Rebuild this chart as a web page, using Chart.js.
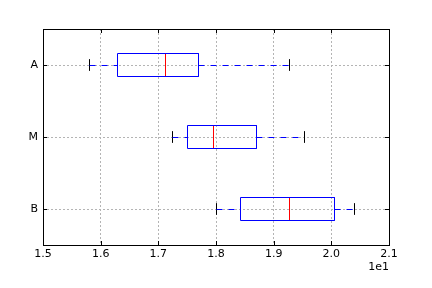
<!DOCTYPE html>
<html>
<head>
<meta charset="utf-8">
<script src="https://cdn.jsdelivr.net/npm/chart.js@4/dist/chart.umd.min.js"></script>
<style>
  html, body { margin: 0; padding: 0; background: #fff; }
  #wrap { width: 432px; height: 288px; }
</style>
</head>
<body>
<div id="wrap"><canvas id="box-chart"></canvas></div>
<script>
const categories = ['A', 'M', 'B'];
const whiskerLow = [1.580, 1.724, 1.800];
const q1 = [1.630, 1.750, 1.843];
const median = [1.712, 1.795, 1.927];
const q3 = [1.769, 1.871, 2.006];
const whiskerHigh = [1.927, 1.954, 2.041];
const xTicks = [1.5, 1.6, 1.7, 1.8, 1.9, 2.0, 2.1];

const BOX_HALF = 0.155;
const CAP_HALF = 0.08;

function seg(points, color, dash) {
  return {
    type: 'scatter',
    data: points,
    showLine: true,
    borderColor: color,
    borderWidth: 1,
    borderDash: dash || [],
    pointRadius: 0,
    fill: false
  };
}

const datasets = [];
categories.forEach((c, i) => {
  // box
  datasets.push(seg([
    { x: q1[i], y: i - BOX_HALF }, { x: q3[i], y: i - BOX_HALF },
    { x: q3[i], y: i + BOX_HALF }, { x: q1[i], y: i + BOX_HALF },
    { x: q1[i], y: i - BOX_HALF }
  ], '#0000ff'));
  // whiskers
  datasets.push(seg([{ x: whiskerLow[i], y: i }, { x: q1[i], y: i }], '#0000ff', [6, 6]));
  datasets.push(seg([{ x: q3[i], y: i }, { x: whiskerHigh[i], y: i }], '#0000ff', [6, 6]));
  // caps
  datasets.push(seg([{ x: whiskerLow[i], y: i - CAP_HALF }, { x: whiskerLow[i], y: i + CAP_HALF }], '#000000'));
  datasets.push(seg([{ x: whiskerHigh[i], y: i - CAP_HALF }, { x: whiskerHigh[i], y: i + CAP_HALF }], '#000000'));
  // median
  datasets.push(seg([{ x: median[i], y: i - BOX_HALF }, { x: median[i], y: i + BOX_HALF }], '#ff0000'));
});

// snap line points to half pixels so 1px lines stay crisp
const snapPlugin = {
  id: 'snap',
  afterDatasetsUpdate(chart) {
    chart.data.datasets.forEach((ds, di) => {
      chart.getDatasetMeta(di).data.forEach(el => {
        el.x = Math.floor(el.x) + 0.5;
        el.y = Math.floor(el.y) + 0.5;
      });
    });
  }
};

// axes frame + inward ticks like matplotlib
const framePlugin = {
  id: 'frame',
  afterDatasetsDraw(chart) {
    const { ctx, chartArea: a, scales } = chart;
    ctx.save();
    ctx.strokeStyle = '#000';
    ctx.lineWidth = 1;
    ctx.beginPath();
    scales.x.ticks.forEach(t => {
      const px = Math.round(scales.x.getPixelForValue(t.value)) + 0.5;
      ctx.moveTo(px, a.bottom); ctx.lineTo(px, a.bottom - 4);
      ctx.moveTo(px, a.top); ctx.lineTo(px, a.top + 4);
    });
    scales.y.ticks.forEach(t => {
      const py = Math.round(scales.y.getPixelForValue(t.value)) + 0.5;
      ctx.moveTo(a.left, py); ctx.lineTo(a.left + 4, py);
      ctx.moveTo(a.right, py); ctx.lineTo(a.right - 4, py);
    });
    ctx.stroke();
    ctx.strokeRect(Math.round(a.left) + 0.5, Math.round(a.top) + 0.5,
      Math.round(a.right - a.left), Math.round(a.bottom - a.top));
    ctx.restore();
  }
};

Chart.defaults.font.family = '"DejaVu Sans", sans-serif';
Chart.defaults.font.size = 11;
Chart.defaults.color = '#000';

new Chart(document.getElementById('box-chart'), {
  type: 'scatter',
  data: { datasets },
  options: {
    responsive: true,
    maintainAspectRatio: false,
    animation: false,
    layout: { padding: { top: 29, right: 43, left: 0, bottom: 0 } },
    plugins: { legend: { display: false }, tooltip: { enabled: false } },
    scales: {
      x: {
        type: 'linear',
        min: 1.5,
        max: 2.1,
        afterBuildTicks: s => { s.ticks = xTicks.map(v => ({ value: v })); },
        afterFit: s => { s.height = 43; },
        ticks: { padding: 3, callback: v => v.toFixed(1) },
        grid: { color: '#b4b4b4', drawTicks: false },
        border: { display: false, dash: [2, 2] },
        title: { display: true, text: '1e1', align: 'end', padding: { top: 0, bottom: 14 } }
      },
      y: {
        type: 'linear',
        min: -0.5,
        max: 2.5,
        reverse: true,
        afterBuildTicks: s => { s.ticks = categories.map((c, i) => ({ value: i })); },
        afterFit: s => { s.width = 43; },
        ticks: { padding: 5, callback: v => categories[v] },
        grid: { color: '#b4b4b4', drawTicks: false },
        border: { display: false, dash: [2, 2] }
      }
    }
  },
  plugins: [snapPlugin, framePlugin]
});
</script>
</body>
</html>
